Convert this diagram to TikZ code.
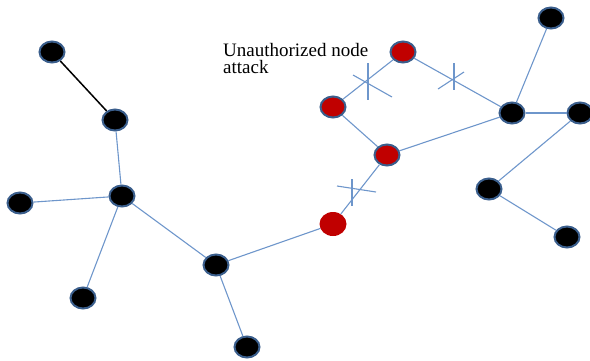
\documentclass[tikz,border=0pt]{standalone}
\usepackage{fontspec}
\setmainfont{Liberation Serif}
\usetikzlibrary{shapes.geometric}
\definecolor{edgeblue}{HTML}{6E96CB}
\definecolor{rimblue}{HTML}{3A5E8C}
\definecolor{attackred}{HTML}{C00000}
\begin{document}
\begin{tikzpicture}[x=1pt,y=-1pt,
  blacknode/.style={ellipse,minimum width=25pt,minimum height=21pt,inner sep=0pt,fill=black,draw=rimblue,line width=2pt},
  rednode/.style={ellipse,minimum width=25pt,minimum height=21pt,inner sep=0pt,fill=attackred,draw=rimblue,line width=2pt},
  plainred/.style={ellipse,minimum width=27pt,minimum height=24pt,inner sep=0pt,fill=attackred,draw=none},
  link/.style={draw=edgeblue,line width=1.1pt},
  cut/.style={draw=edgeblue,line width=1.1pt}]
\useasboundingbox (0,0) rectangle (590,360);
% nodes
\node[blacknode] (A) at (52,52) {};
\node[blacknode] (B) at (115,120) {};
\node[blacknode] (C) at (122,196) {};
\node[blacknode] (D) at (20,203) {};
\node[blacknode] (E) at (83,298) {};
\node[blacknode] (F) at (216,265) {};
\node[blacknode] (G) at (247,347) {};
\node[plainred] (H) at (333,224) {};
\node[rednode] (I) at (387,155) {};
\node[rednode] (J) at (333,107) {};
\node[rednode] (K) at (403,52) {};
\node[blacknode] (L) at (512,113) {};
\node[blacknode] (M) at (551,18) {};
\node[blacknode] (N) at (580,113) {};
\node[blacknode] (O) at (489,189) {};
\node[blacknode] (P) at (567,237) {};
% label
\node[anchor=north west,align=left,inner sep=0pt,font=\fontsize{19}{17.5}\selectfont] (T) at (223,43) {Unauthorized node\\attack};
% edges
\draw[black,line width=1.5pt] (A) -- (B);
\draw[link] (B) -- (C);
\draw[link] (C) -- (D);
\draw[link] (C) -- (E);
\draw[link] (C) -- (F);
\draw[link] (F) -- (G);
\draw[link] (F) -- (H);
\draw[link] (H) -- (I);
\draw[link] (I) -- (J);
\draw[link] (J) -- (K);
\draw[link] (K) -- (L);
\draw[link] (I) -- (L);
\draw[link] (L) -- (M);
\draw[link] (L) -- (N);
\draw[link] (N) -- (O);
\draw[link] (O) -- (P);
% crosses marking cut links
\draw[cut] (352,179) -- (352,206);
\draw[cut] (337,186) -- (376,192);
\draw[cut] (368,63) -- (368,100);
\draw[cut] (353,75) -- (392,97);
\draw[cut] (454,63) -- (454,90);
\draw[cut] (438,89) -- (464,72);
\end{tikzpicture}
\end{document}
